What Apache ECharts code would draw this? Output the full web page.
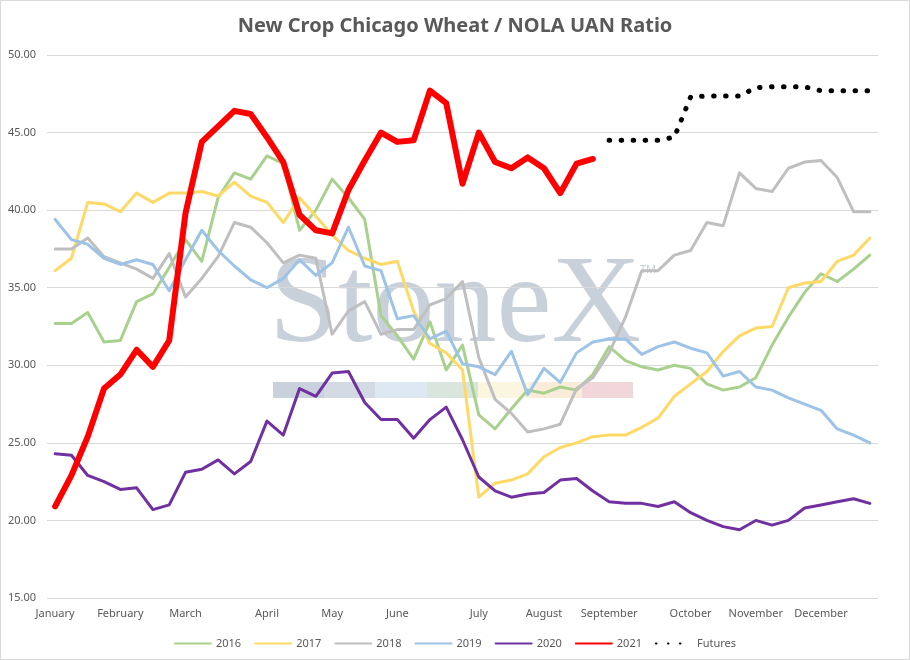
<!DOCTYPE html>
<html>
<head>
<meta charset="utf-8">
<script src="https://cdn.jsdelivr.net/npm/echarts@6/dist/echarts.min.js"></script>
<style>
html,body{margin:0;padding:0;background:#fff;}
#chart{width:910px;height:660px;}
</style>
</head>
<body>
<div id="chart"></div>
<script>
const weeks = [1,2,3,4,5,6,7,8,9,10,11,12,13,14,15,16,17,18,19,20,21,22,23,24,25,26,27,28,29,30,31,32,33,34,35,36,37,38,39,40,41,42,43,44,45,46,47,48,49,50,51];
const monthNames = ['January','February','March','April','May','June','July','August','September','October','November','December'];
const monthStartIndex = [0,4,8,13,17,21,26,30,34,39,43,47];
const yTicks = [15,20,25,30,35,40,45,50];

const s2016 = [32.7,32.7,33.4,31.5,31.6,34.1,34.6,36.3,38.1,36.7,40.8,42.4,42.0,43.5,43.0,38.7,40.0,42.0,40.8,39.4,33.2,31.9,30.4,32.8,29.7,31.3,26.8,25.9,27.2,28.4,28.2,28.6,28.4,29.4,31.2,30.3,29.9,29.7,30.0,29.8,28.8,28.4,28.6,29.2,31.3,33.1,34.7,35.9,35.4,36.2,37.1];
const s2017 = [36.1,36.9,40.5,40.4,39.9,41.1,40.5,41.1,41.1,41.2,40.9,41.8,40.9,40.5,39.2,40.8,39.6,38.4,37.4,36.9,36.5,36.7,33.5,31.4,30.8,29.7,21.5,22.4,22.6,23.0,24.1,24.7,25.0,25.4,25.5,25.5,26.0,26.6,28.0,28.8,29.6,30.9,31.9,32.4,32.5,35.0,35.3,35.4,36.7,37.1,38.2];
const s2018 = [37.5,37.5,38.2,37.0,36.6,36.2,35.6,37.2,34.4,35.6,37.0,39.2,38.9,37.9,36.6,37.1,36.9,32.0,33.5,34.1,32.0,32.3,32.3,33.9,34.3,35.4,30.5,27.8,26.9,25.7,25.9,26.2,28.5,29.2,30.8,33.1,36.1,36.1,37.1,37.4,39.2,39.0,42.4,41.4,41.2,42.7,43.1,43.2,42.1,39.9,39.9];
const s2019 = [39.4,38.1,37.8,36.9,36.5,36.8,36.5,34.8,36.8,38.7,37.4,36.4,35.5,35.0,35.6,36.8,35.8,36.6,38.9,36.4,36.1,33.0,33.2,31.7,32.2,30.1,29.9,29.4,30.9,28.1,29.8,28.9,30.8,31.5,31.7,31.7,30.7,31.2,31.5,31.1,30.8,29.3,29.6,28.6,28.4,27.9,27.5,27.1,25.9,25.5,25.0];
const s2020 = [24.3,24.2,22.9,22.5,22.0,22.1,20.7,21.0,23.1,23.3,23.9,23.0,23.8,26.4,25.5,28.5,28.0,29.5,29.6,27.6,26.5,26.5,25.3,26.5,27.3,25.2,22.8,21.9,21.5,21.7,21.8,22.6,22.7,21.9,21.2,21.1,21.1,20.9,21.2,20.5,20.0,19.6,19.4,20.0,19.7,20.0,20.8,21.0,21.2,21.4,21.1];
const s2021 = [20.9,22.9,25.4,28.5,29.4,31.0,29.9,31.6,39.8,44.4,45.4,46.4,46.2,44.7,43.1,39.7,38.7,38.5,41.3,43.2,45.0,44.4,44.5,47.7,46.9,41.7,45.0,43.1,42.7,43.4,42.7,41.1,43.0,43.3,null,null,null,null,null,null,null,null,null,null,null,null,null,null,null,null,null];
const futures = [null,null,null,null,null,null,null,null,null,null,null,null,null,null,null,null,null,null,null,null,null,null,null,null,null,null,null,null,null,null,null,null,null,null,44.5,44.5,44.5,44.5,44.7,47.3,47.35,47.35,47.35,47.9,47.95,47.95,47.95,47.7,47.7,47.7,47.7];

const FONT = 'Noto Sans';
const TXT = '#595959';

const chart = echarts.init(document.getElementById('chart'), null, {renderer:'canvas'});

function line(name, data, color, width, extra) {
  return Object.assign({
    name: name,
    type: 'line',
    data: data,
    symbol: 'none',
    showSymbol: false,
    connectNulls: false,
    silent: true,
    animation: false,
    lineStyle: {color: color, width: width, join: 'round', cap: 'round'},
    itemStyle: {color: color}
  }, extra || {});
}

const wmBars = [
  [273,324,'#c9d1dc'],[324,375,'#d3dae3'],[375,427,'#dde8f2'],
  [427,478,'#dae5dd'],[478,530,'#faf6e0'],[530,582,'#fbebd9'],[582,633,'#f1d6da']
];

const option = {
  backgroundColor: '#ffffff',
  animation: false,
  title: {
    text: 'New Crop Chicago Wheat / NOLA UAN Ratio',
    left: 'center',
    top: 11,
    textStyle: {fontFamily: FONT, fontSize: 20, fontWeight: 'bold', color: TXT}
  },
  graphic: [
    {type:'rect', z:-10, shape:{x:0.5,y:0.5,width:909,height:659}, style:{fill:'none', stroke:'#d9d9d9', lineWidth:1}},
    {type:'text', z:-5, style:{text:'StoneX', x:269, y:308, textAlign:'left', textVerticalAlign:'middle',
      font:'124px "Liberation Serif", "DejaVu Serif", serif', fill:'#c8d0da'}},
    {type:'text', z:-5, style:{text:'TM', x:640, y:270, textAlign:'left', textVerticalAlign:'middle',
      font:'11px "Noto Sans", sans-serif', fill:'#c8d0da'}}
  ].concat(wmBars.map(function(b){
    return {type:'rect', z:-5, shape:{x:b[0], y:382, width:b[1]-b[0], height:16}, style:{fill:b[2]}};
  })),
  legend: {
    top: 633,
    left: 'center',
    itemWidth: 36,
    itemHeight: 8,
    itemGap: 13,
    itemStyle: {opacity: 0},
    textStyle: {fontFamily: FONT, fontSize: 11, color: TXT},
    data: ['2016','2017','2018','2019','2020','2021','Futures']
  },
  grid: {left: 47, right: 32, top: 55, bottom: 62, containLabel: false},
  xAxis: {
    type: 'category',
    data: weeks,
    boundaryGap: true,
    axisLine: {show: false},
    axisTick: {show: false},
    splitLine: {show: false},
    axisLabel: {
      interval: 0,
      margin: 10,
      fontFamily: FONT, fontSize: 11, color: TXT,
      formatter: function(v, i) {
        const k = monthStartIndex.indexOf(i);
        return k >= 0 ? monthNames[k] : '';
      }
    }
  },
  yAxis: {
    type: 'value',
    min: yTicks[0],
    max: yTicks[yTicks.length-1],
    interval: 5,
    axisLine: {show: false},
    axisTick: {show: false},
    splitLine: {lineStyle: {color: '#d9d9d9', width: 1}},
    axisLabel: {
      margin: 11,
      fontFamily: FONT, fontSize: 11, color: TXT,
      formatter: function(v){ return v.toFixed(2); }
    }
  },
  series: [
    line('2016', s2016, '#A9D18E', 3),
    line('2017', s2017, '#FFD966', 3),
    line('2018', s2018, '#BFBFBF', 3),
    line('2019', s2019, '#9DC3E6', 3),
    line('2020', s2020, '#7030A0', 3),
    line('2021', s2021, '#FF0000', 6),
    line('Futures', futures, '#000000', 5, {
      lineStyle: {color:'#000000', width:5, type:[0.5, 11.5], cap:'round', join:'round'}
    })
  ]
};
chart.setOption(option);
</script>
</body>
</html>
